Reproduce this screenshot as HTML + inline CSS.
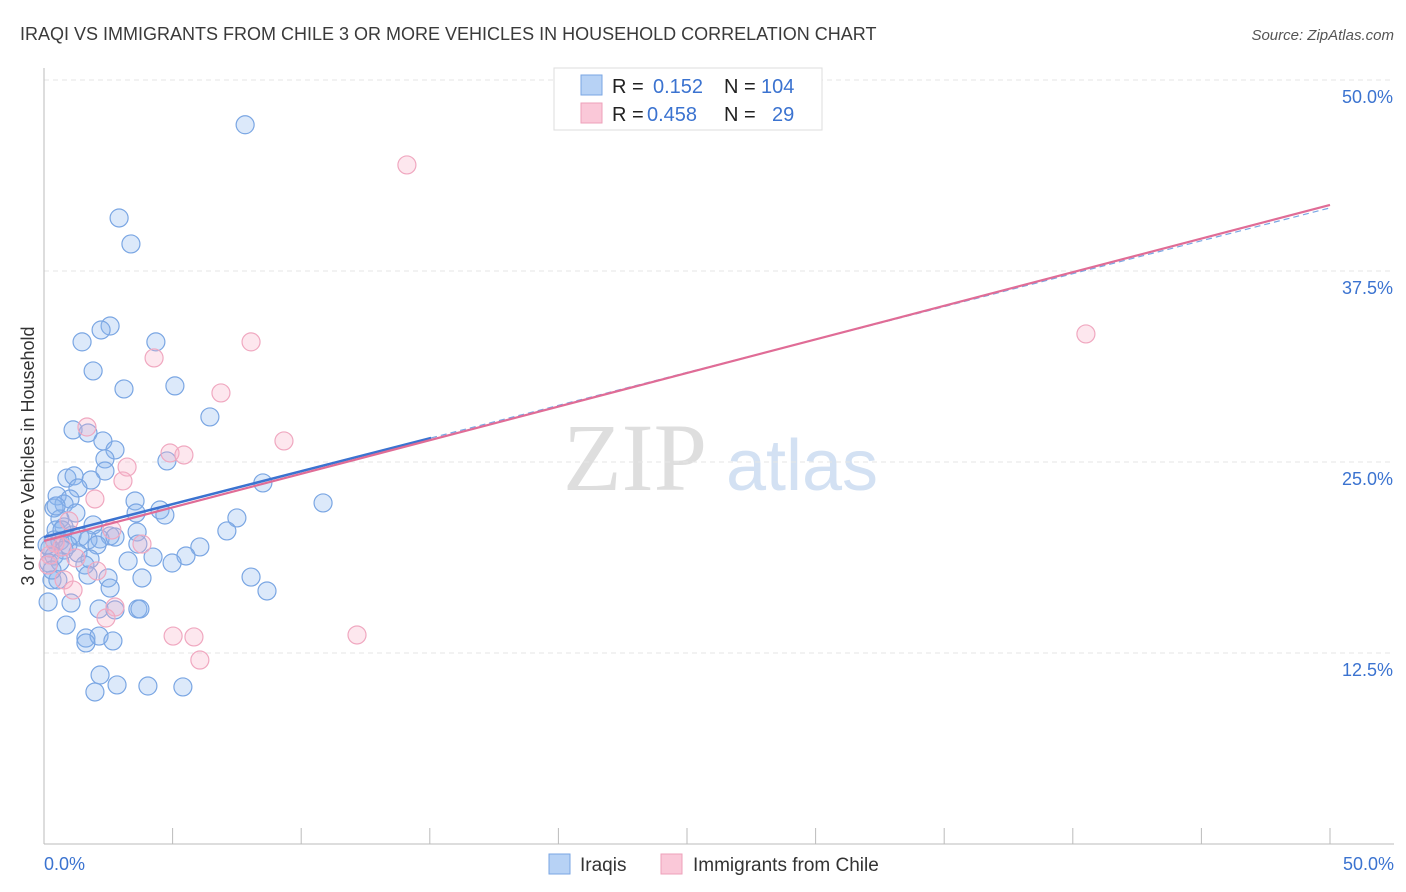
<!DOCTYPE html>
<html><head><meta charset="utf-8"><style>
body{margin:0;background:#fff;font-family:"Liberation Sans",sans-serif;}
#wrap{position:relative;width:1406px;height:892px;overflow:hidden;}
</style></head><body>
<div id="wrap">
<svg id="svg" width="1406" height="892" xmlns="http://www.w3.org/2000/svg">
<text x="20" y="40" font-size="18" fill="#3a3a3a">IRAQI VS IMMIGRANTS FROM CHILE 3 OR MORE VEHICLES IN HOUSEHOLD CORRELATION CHART</text>
<text x="1394" y="40" font-size="15" fill="#555" font-style="italic" text-anchor="end">Source: ZipAtlas.com</text>
<text x="635" y="490" font-size="96" fill="#dedede" font-family="Liberation Serif,serif" text-anchor="middle">ZIP</text>
<text x="802" y="490" font-size="72" fill="#d3e1f3" text-anchor="middle">atlas</text>
<g id="grid"></g><g id="axes"></g><g id="pts"></g><g id="lines"></g>
<text transform="translate(34,456) rotate(-90)" font-size="18" fill="#333" text-anchor="middle">3 or more Vehicles in Household</text>
<g>
<rect x="554" y="68" width="268" height="62" fill="#fff" stroke="#ddd"/>
<rect x="581" y="75" width="21" height="20" fill="#b7d2f5" stroke="#7aa6e3"/>
<rect x="581" y="103" width="21" height="20" fill="#fac8d8" stroke="#eea0ba"/>
<text x="612" y="93" font-size="20" fill="#222">R = </text><text x="653" y="93" font-size="20" fill="#3b73d0">0.152</text>
<text x="724" y="93" font-size="20" fill="#222">N = </text><text x="761" y="93" font-size="20" fill="#3b73d0">104</text>
<text x="612" y="121" font-size="20" fill="#222">R = </text><text x="647" y="121" font-size="20" fill="#3b73d0">0.458</text>
<text x="724" y="121" font-size="20" fill="#222">N = </text><text x="772" y="121" font-size="20" fill="#3b73d0">29</text>
</g>
<g>
<rect x="549" y="854" width="21" height="20" fill="#b7d2f5" stroke="#7aa6e3"/>
<text x="580" y="871" font-size="19" fill="#333">Iraqis</text>
<rect x="661" y="854" width="21" height="20" fill="#fac8d8" stroke="#eea0ba"/>
<text x="693" y="871" font-size="19" fill="#333">Immigrants from Chile</text>
</g>
</svg>
</div>
<script>
const yTicks=[12.5,25,37.5,50];
const yTickLabels=["12.5%","25.0%","37.5%","50.0%"];
const xTickLabels=["0.0%","50.0%"];
const iraqX=[7.82,2.92,3.38,2.57,2.22,1.48,4.35,1.91,3.11,5.09,6.45,1.13,1.71,2.29,2.76,2.37,4.78,0.89,1.17,2.37,1.83,1.32,8.51,10.85,0.51,1.01,0.78,3.54,0.39,4.51,3.58,4.70,1.24,7.5,0.62,1.91,0.78,0.47,3.62,7.11,2.57,1.09,1.4,2.18,0.39,0.62,1.71,2.76,0.93,2.06,6.06,3.65,0.23,0.78,1.32,0.39,4.24,5.52,3.27,1.79,0.19,4.98,1.59,0.62,1.71,2.49,3.81,8.05,0.31,2.57,8.67,0.16,1.05,2.14,3.65,3.73,2.76,0.86,1.63,2.14,2.68,1.63,2.18,2.84,4.04,5.4,1.98,0.54,0.31,0.12,0.7,0.47];
const iraqY=[47.07,40.97,39.27,33.9,33.64,32.86,32.86,30.96,29.78,29.98,27.95,27.1,26.9,26.38,25.79,25.2,25.07,23.95,24.09,24.41,23.82,23.3,23.63,22.32,22.78,22.58,22.25,22.45,21.99,21.86,21.66,21.53,21.66,21.34,21.27,20.88,20.75,20.55,20.42,20.49,20.16,20.22,20.09,19.96,19.9,19.83,19.9,20.09,19.57,19.57,19.44,19.63,19.37,19.24,19.05,18.85,18.78,18.85,18.52,18.65,18.39,18.39,18.26,18.46,17.6,17.41,17.41,17.47,17.28,16.75,16.56,15.84,15.77,15.38,15.38,15.38,15.32,14.33,13.48,13.61,13.29,13.16,11.06,10.41,10.34,10.28,9.95,17.28,17.93,19.57,20.55,22.12];
const chileX=[14.11,40.51,4.28,8.05,6.88,9.33,1.67,4.9,5.44,3.23,3.07,1.98,0.97,2.64,3.81,0.43,0.7,0.23,1.24,2.06,0.78,1.13,2.76,2.41,5.02,5.83,12.17,6.06,0.16];
const chileY=[44.44,33.38,31.81,32.86,29.52,26.38,27.29,25.59,25.46,24.67,23.76,22.58,21.14,20.55,19.63,19.7,19.44,18.91,18.72,17.87,17.28,16.62,15.51,14.79,13.61,13.55,13.68,12.04,18.26];
const iraqLine=[20.09,41.63];
const chileLine=[19.83,41.82];
const iraqSolidEnd=15.05;

const NS="http://www.w3.org/2000/svg";
const X0=44,X1=1330,Y0=844,Y1=80;
const sx=v=>X0+(v/50)*(X1-X0);
const sy=v=>Y0-(v/50)*(Y0-Y1);
function mk(tag,attrs,parent){const e=document.createElementNS(NS,tag);for(const k in attrs)e.setAttribute(k,attrs[k]);document.getElementById(parent).appendChild(e);return e;}
yTicks.forEach((t,i)=>{
 const g=mk('line',{x1:X0,x2:1394,y1:sy(t),y2:sy(t),stroke:'#e6e6e6','stroke-dasharray':'5,4'},'grid');
 
 
 const tx=mk('text',{x:1393,y:sy(t)+23,'font-size':18,fill:'#3b73d0','text-anchor':'end'},'axes');
 tx.textContent=yTickLabels[i];
 
 
});
const ya=mk('line',{x1:X0,x2:X0,y1:68,y2:Y0,stroke:'#bbb'},'axes');


const xa=mk('line',{x1:X0,x2:1394,y1:Y0,y2:Y0,stroke:'#bbb'},'axes');


for(let i=0;i<=10;i++){
 const t=mk('line',{x1:sx(i*5),x2:sx(i*5),y1:Y0-16,y2:Y0,stroke:'#bbb'},'axes');
 
 
}
[[0,'start',X0],[1,'end',1394]].forEach(([i,a,x])=>{
 const tx=mk('text',{x:x,y:870,'font-size':18,fill:'#3b73d0','text-anchor':a},'axes');
 tx.textContent=xTickLabels[i];
 
 
});
iraqX.forEach((v,i)=>{
 const c=mk('circle',{cx:sx(v),cy:sy(iraqY[i]),r:9,fill:'rgba(140,182,238,0.3)',stroke:'#7aa6e3','stroke-width':1.2},'pts');
 
 
});
chileX.forEach((v,i)=>{
 const c=mk('circle',{cx:sx(v),cy:sy(chileY[i]),r:9,fill:'rgba(247,175,198,0.3)',stroke:'#f0a8c0','stroke-width':1.2},'pts');
 
 
});
const iy=x=>iraqLine[0]+(iraqLine[1]-iraqLine[0])*x/50;
const l1=mk('line',{x1:sx(0),y1:sy(iraqLine[0]),x2:sx(iraqSolidEnd),y2:sy(iy(iraqSolidEnd)),stroke:'#3b73d0','stroke-width':2.5},'lines');


const l2=mk('line',{x1:sx(iraqSolidEnd),y1:sy(iy(iraqSolidEnd)),x2:sx(50),y2:sy(iraqLine[1]),stroke:'#7aa6e3','stroke-width':1.2,'stroke-dasharray':'6,4'},'lines');


const l3=mk('line',{x1:sx(0),y1:sy(chileLine[0]),x2:sx(50),y2:sy(chileLine[1]),stroke:'#e06c96','stroke-width':2.2},'lines');


</script>
</body></html>
